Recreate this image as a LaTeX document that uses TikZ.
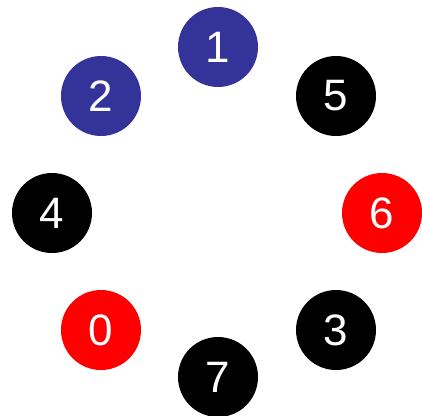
\documentclass[tikz,border=0pt]{standalone}
\usepackage{fontspec}
\setmainfont{Liberation Sans}
\definecolor{myblue}{HTML}{333399}
\definecolor{myred}{HTML}{FF0000}
\begin{document}
\begin{tikzpicture}[x=1pt,y=-1pt,
  disc/.style={circle,minimum size=80pt,inner sep=0pt,text=white,font=\fontsize{44}{44}\selectfont}]
\useasboundingbox (0,0) rectangle (422,415);
\node[disc,fill=myblue] (n1) at (218,47) {1};
\node[disc,fill=myblue] (n2) at (101,96) {2};
\node[disc,fill=black] (n5) at (336,96) {5};
\node[disc,fill=black] (n4) at (52,213) {4};
\node[disc,fill=myred] (n6) at (382,213) {6};
\node[disc,fill=myred] (n0) at (101,330) {0};
\node[disc,fill=black] (n3) at (336,330) {3};
\node[disc,fill=black] (n7) at (218,377) {7};
\end{tikzpicture}
\end{document}
